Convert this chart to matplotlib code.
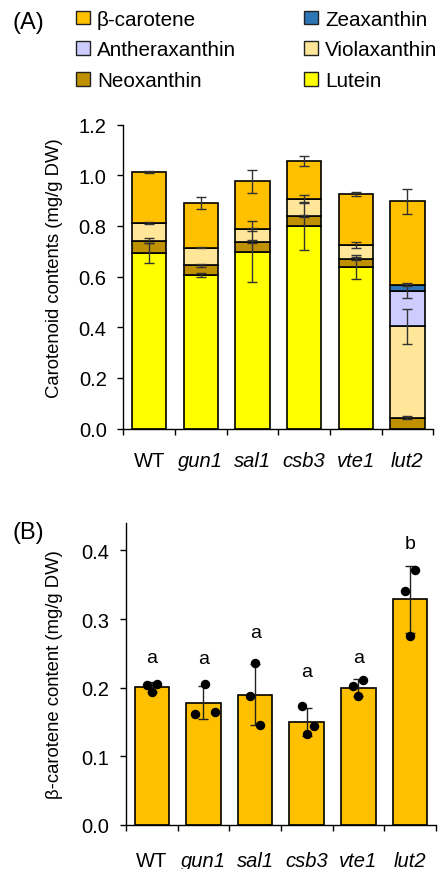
import matplotlib
matplotlib.use("Agg")
import matplotlib.pyplot as plt
import numpy as np
from matplotlib.patches import Patch

plt.rcParams['font.family'] = ['Liberation Sans', 'DejaVu Sans']

genotypes = ['WT', 'gun1', 'sal1', 'csb3', 'vte1', 'lut2']
italic = [False, True, True, True, True, True]

# Panel A: stacked carotenoid contents (mg/g DW)
lutein = [0.694, 0.607, 0.698, 0.800, 0.638, 0.0]
neoxanthin = [0.047, 0.037, 0.040, 0.040, 0.033, 0.043]
violaxanthin = [0.070, 0.071, 0.049, 0.067, 0.054, 0.361]
antheraxanthin = [0.0, 0.0, 0.0, 0.0, 0.0, 0.141]
zeaxanthin = [0.0, 0.0, 0.0, 0.0, 0.0, 0.022]
beta_carotene = [0.202, 0.176, 0.190, 0.149, 0.201, 0.330]

lutein_err = [0.040, 0.008, 0.120, 0.096, 0.048, 0.0]
neoxanthin_err = [0.010, 0.005, 0.005, 0.005, 0.006, 0.007]
violaxanthin_err = [0.005, 0.003, 0.005, 0.015, 0.010, 0.069]
antheraxanthin_err = [0.0, 0.0, 0.0, 0.0, 0.0, 0.030]
zeaxanthin_err = [0.0, 0.0, 0.0, 0.0, 0.0, 0.005]
beta_carotene_err = [0.005, 0.024, 0.045, 0.021, 0.008, 0.050]

# Panel B: beta-carotene content, replicates
bc_mean = [0.201, 0.178, 0.190, 0.150, 0.200, 0.329]
bc_sd = [0.007, 0.024, 0.045, 0.021, 0.012, 0.049]
bc_reps = [[0.204, 0.194, 0.206],
           [0.162, 0.206, 0.165],
           [0.188, 0.236, 0.145],
           [0.174, 0.133, 0.144],
           [0.202, 0.188, 0.211],
           [0.341, 0.275, 0.372]]
rep_jitter = [[-0.10, 0.0, 0.10],
              [-0.17, 0.03, 0.22],
              [-0.10, 0.0, 0.10],
              [-0.10, 0.0, 0.14],
              [-0.10, 0.0, 0.09],
              [-0.10, 0.0, 0.10]]
letters = ['a', 'a', 'a', 'a', 'a', 'b']
letter_y = [0.244, 0.243, 0.280, 0.224, 0.244, 0.410]

components = [
    ('Lutein', lutein, lutein_err, '#FFFF00'),
    ('Neoxanthin', neoxanthin, neoxanthin_err, '#BF9000'),
    ('Violaxanthin', violaxanthin, violaxanthin_err, '#FFE699'),
    ('Antheraxanthin', antheraxanthin, antheraxanthin_err, '#CCCCFF'),
    ('Zeaxanthin', zeaxanthin, zeaxanthin_err, '#2E75B6'),
    ('β-carotene', beta_carotene, beta_carotene_err, '#FFC000'),
]
colors = {c[0]: c[3] for c in components}

fig = plt.figure(figsize=(4.39, 8.70), dpi=100)
x = np.arange(len(genotypes))
W = 0.67
TICK_FS = 14.5

def style_axes(ax, ylim, yticks, fmt, xpad):
    ax.set_xlim(-0.5, len(genotypes) - 0.5)
    ax.set_ylim(*ylim)
    ax.set_yticks(yticks)
    ax.set_yticklabels([fmt.format(v) for v in yticks], fontsize=TICK_FS)
    for s in ['top', 'right']:
        ax.spines[s].set_visible(False)
    for s in ['left', 'bottom']:
        ax.spines[s].set_linewidth(1.0)
    ax.set_xticks(x)
    ax.set_xticks(np.arange(-0.5, len(genotypes)), minor=True)
    ax.tick_params(axis='x', which='major', length=0, pad=xpad)
    ax.tick_params(axis='x', which='minor', length=4, width=1.0, direction='out')
    ax.tick_params(axis='y', length=4, width=1.0, pad=8)
    ax.set_xticklabels(genotypes, fontsize=TICK_FS)
    for lab, it in zip(ax.get_xticklabels(), italic):
        lab.set_fontstyle('italic' if it else 'normal')

# ---- Panel A ----
axA = fig.add_axes([0.281, 0.5063, 0.706, 0.3492])
bottom = np.zeros(len(genotypes))
for name, vals, errs, col in components:
    vals = np.array(vals)
    axA.bar(x, vals, W, bottom=bottom, color=col, edgecolor='black', linewidth=1.2, zorder=2)
    top = bottom + vals
    mask = (vals > 0) & (np.array(errs) > 0)
    axA.errorbar(x[mask], top[mask], yerr=np.array(errs)[mask], fmt='none',
                 ecolor='#333333', elinewidth=1.0, capsize=3.5, capthick=1.0, zorder=3)
    bottom = top
style_axes(axA, (0, 1.2), np.arange(0, 1.21, 0.2), '{:.1f}', 16.5)
axA.set_ylabel('Carotenoid contents (mg/g DW)', fontsize=13.3)
axA.yaxis.set_label_coords(-0.1945, 0.53)

# ---- Panel B ----
axB = fig.add_axes([0.287, 0.0506, 0.706, 0.3471])
axB.bar(x, bc_mean, W, color='#FFC000', edgecolor='black', linewidth=1.2, zorder=2)
axB.errorbar(x, bc_mean, yerr=bc_sd, fmt='none', ecolor='#222222',
             elinewidth=1.0, capsize=3.5, capthick=1.0, zorder=3)
for i, (reps, jit) in enumerate(zip(bc_reps, rep_jitter)):
    axB.plot(x[i] + np.array(jit), reps, 'o', color='black', markersize=5.8, zorder=4)
for i, (lt, ly) in enumerate(zip(letters, letter_y)):
    axB.text(x[i], ly, lt, ha='center', va='center', fontsize=14)
style_axes(axB, (0, 0.44), np.arange(0, 0.41, 0.1), '{:.1f}', 19)
axB.set_ylabel('β-carotene content (mg/g DW)', fontsize=13.3)
axB.yaxis.set_label_coords(-0.203, 0.5)

# panel labels
fig.text(0.028, 0.973, '(A)', fontsize=17, va='center', ha='left')
fig.text(0.028, 0.387, '(B)', fontsize=17, va='center', ha='left')

# legend
order = ['β-carotene', 'Antheraxanthin', 'Neoxanthin', 'Zeaxanthin', 'Violaxanthin', 'Lutein']
handles = [Patch(facecolor=colors[n], edgecolor='#222222', linewidth=1.0, label=n) for n in order]
fig.legend(handles=handles, ncol=2, loc='upper left', bbox_to_anchor=(0.155, 0.997),
           frameon=False, fontsize=14.9, handlelength=0.64, handleheight=0.64,
           handletextpad=0.36, columnspacing=3.3, labelspacing=0.56, borderaxespad=0.0)

fig.savefig('out.png', dpi=100)
